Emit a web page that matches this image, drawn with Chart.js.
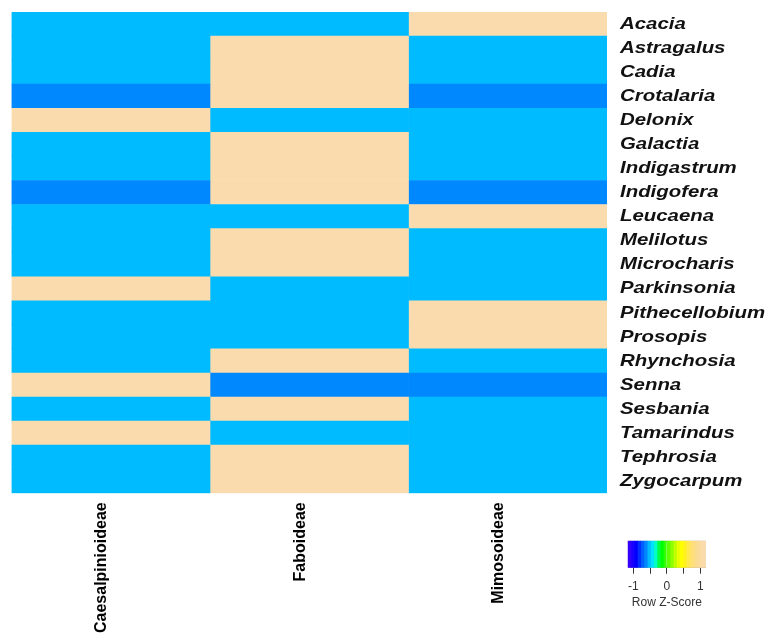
<!DOCTYPE html>
<html>
<head>
<meta charset="utf-8">
<script src="https://cdn.jsdelivr.net/npm/chart.js@4/dist/chart.umd.min.js"></script>
<style>
  html, body { margin: 0; padding: 0; background: #ffffff; }
  #wrap { position: relative; width: 766px; height: 634px; overflow: hidden; }
  #heat { position: absolute; left: 0; top: 0; }
  #key { position: absolute; left: 600px; top: 530px; }
</style>
</head>
<body>
<div id="wrap">
  <canvas id="heat" width="766" height="634"></canvas>
  <canvas id="key" width="140" height="90"></canvas>
</div>
<script>
// Genera (rows) and subfamilies (columns)
const genera = ['Acacia', 'Astragalus', 'Cadia', 'Crotalaria', 'Delonix', 'Galactia',
  'Indigastrum', 'Indigofera', 'Leucaena', 'Melilotus', 'Microcharis', 'Parkinsonia',
  'Pithecellobium', 'Prosopis', 'Rhynchosia', 'Senna', 'Sesbania', 'Tamarindus',
  'Tephrosia', 'Zygocarpum'];
const subfamilies = ['Caesalpinioideae', 'Faboideae', 'Mimosoideae'];

// Row z-scores per subfamily, one value per genus
const caesalpinioideae = [-0.577, -0.577, -0.577, -0.65, 1.155, -0.577, -0.577, -0.65, -0.577, -0.577,
  -0.577, 1.155, -0.577, -0.577, -0.577, 1.155, -0.577, 1.155, -0.577, -0.577];
const faboideae = [-0.577, 1.155, 1.155, 1.155, -0.577, 1.155, 1.155, 1.155, -0.577, 1.155,
  1.155, -0.577, -0.577, -0.577, 1.155, -0.65, 1.155, -0.577, 1.155, 1.155];
const mimosoideae = [1.155, -0.577, -0.577, -0.65, -0.577, -0.577, -0.577, -0.65, 1.155, -0.577,
  -0.577, -0.577, 1.155, 1.155, -0.577, -0.65, -0.577, -0.577, -0.577, -0.577];

// Colour key
const keyRange = [-1.17, 1.17];
const keyTicks = [-1, -0.5, 0, 0.5, 1];
const keyTitle = 'Row Z-Score';
const palette = ['#3300ff', '#1a00ff', '#0000ff', '#0030ff', '#0060ff', '#0088ff', '#00bbff', '#00e0ff',
  '#00ffc0', '#00ff40', '#00ff00', '#30ff00', '#60ff00', '#90ff00', '#c0ff00', '#e8ff00',
  '#ffff00', '#fff020', '#ffe850', '#ffe070', '#fddc88', '#fbdb98', '#fadba6', '#fadbae'];

const columns = [caesalpinioideae, faboideae, mimosoideae];

function colorFor(v) {
  const t = (v - keyRange[0]) / (keyRange[1] - keyRange[0]);
  const i = Math.max(0, Math.min(palette.length - 1, Math.floor(t * palette.length)));
  return palette[i];
}

// Row labels: bold italic, slightly widened
const rowLabelPlugin = {
  id: 'rowLabels',
  afterDraw(chart) {
    const ys = chart.scales.y;
    const ctx = chart.ctx;
    const x0 = chart.chartArea.right + 13;
    ctx.save();
    ctx.font = 'italic bold 17px "Liberation Sans", Arial, sans-serif';
    ctx.fillStyle = '#111111';
    ctx.textBaseline = 'middle';
    ctx.textAlign = 'left';
    ys.getLabels().forEach((lab, i) => {
      const y = ys.getPixelForTick(i);
      ctx.save();
      ctx.translate(x0, y);
      ctx.scale(1.2, 1);
      ctx.fillText(lab, 0, 0);
      ctx.restore();
    });
    ctx.restore();
  }
};

new Chart(document.getElementById('heat'), {
  type: 'bar',
  data: {
    labels: genera,
    datasets: subfamilies.map((name, j) => ({
      label: name,
      data: genera.map(() => 1),
      backgroundColor: columns[j].map(colorFor),
      borderWidth: 0,
      barPercentage: 1,
      categoryPercentage: 1
    }))
  },
  options: {
    indexAxis: 'y',
    responsive: false,
    animation: false,
    events: [],
    layout: { padding: { left: 11.5, top: 12, right: 0, bottom: 0 } },
    plugins: { legend: { display: false }, tooltip: { enabled: false } },
    scales: {
      x: {
        type: 'linear',
        stacked: true,
        min: 0,
        max: subfamilies.length,
        position: 'bottom',
        grid: { display: false },
        border: { display: false },
        afterBuildTicks(s) { s.ticks = subfamilies.map((_, i) => ({ value: i + 0.5 })); },
        afterFit(s) { s.height = 140.7; },
        ticks: {
          autoSkip: false,
          minRotation: 90,
          maxRotation: 90,
          padding: 1,
          labelOffset: -9,
          color: '#000000',
          font: { family: '"Liberation Sans", Arial, sans-serif', size: 16, weight: 'bold' },
          callback(v) { return subfamilies[Math.round(v - 0.5)]; }
        }
      },
      y: {
        type: 'category',
        stacked: true,
        position: 'right',
        grid: { display: false },
        border: { display: false },
        afterFit(s) { s.width = 159; },
        ticks: { display: false }
      }
    }
  },
  plugins: [rowLabelPlugin]
});

// Colour key chart
const keyStep = (keyRange[1] - keyRange[0]) / palette.length;
const keyDatasets = palette.map((c, i) => ({
  data: [[keyRange[0] + i * keyStep, keyRange[0] + (i + 1) * keyStep]],
  backgroundColor: c,
  borderWidth: 0,
  grouped: false,
  barPercentage: 1,
  categoryPercentage: 1
}));
keyDatasets.push({
  data: [[keyRange[0], keyRange[1]]],
  backgroundColor: 'rgba(0,0,0,0)',
  borderColor: '#8a8a8a',
  borderWidth: 1,
  borderSkipped: false,
  grouped: false,
  barPercentage: 1,
  categoryPercentage: 1
});

new Chart(document.getElementById('key'), {
  type: 'bar',
  data: { labels: [''], datasets: keyDatasets },
  options: {
    indexAxis: 'y',
    responsive: false,
    animation: false,
    events: [],
    layout: { padding: { left: 27.7, right: 34, top: 10.7, bottom: 0 } },
    plugins: { legend: { display: false }, tooltip: { enabled: false } },
    scales: {
      x: {
        type: 'linear',
        min: keyRange[0],
        max: keyRange[1],
        afterBuildTicks(s) { s.ticks = keyTicks.map(v => ({ value: v })); },
        afterFit(s) { s.height = 52.3; },
        grid: { drawOnChartArea: false, drawTicks: true, tickLength: 6, color: '#333333' },
        border: { display: false },
        ticks: {
          autoSkip: false,
          maxRotation: 0,
          padding: 6,
          color: '#333333',
          font: { family: '"Liberation Sans", Arial, sans-serif', size: 12 },
          callback(v) { return Number.isInteger(v) ? String(v) : ''; }
        },
        title: {
          display: true,
          text: keyTitle,
          color: '#333333',
          padding: { top: 2, bottom: 10 },
          font: { family: '"Liberation Sans", Arial, sans-serif', size: 12 }
        }
      },
      y: { display: false }
    }
  }
});
</script>
</body>
</html>
